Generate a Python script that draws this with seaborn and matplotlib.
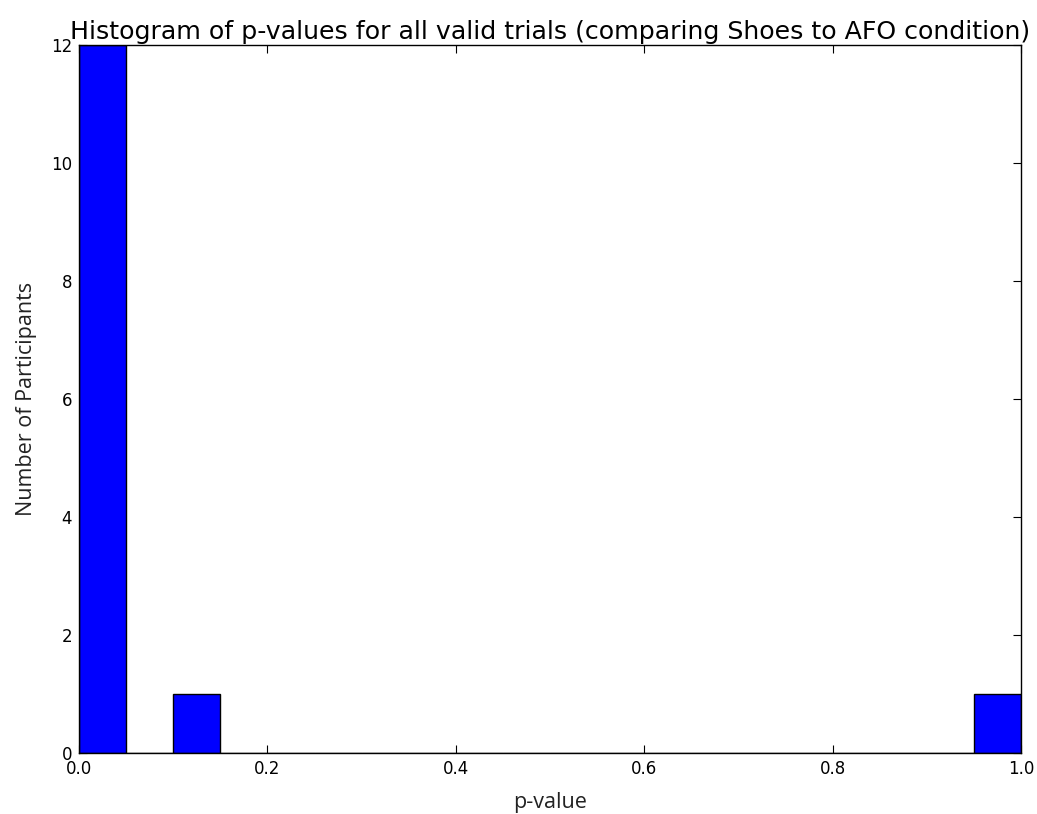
import numpy as np
import pandas as pd
import matplotlib
matplotlib.use("Agg")
import matplotlib.pyplot as plt
import seaborn as sns

# Participant counts per p-value bin (20 equal bins over [0, 1])
n_bins = 20
bin_counts = [12, 0, 1, 0, 0, 0, 0, 0, 0, 0, 0, 0, 0, 0, 0, 0, 0, 0, 0, 1]

title = "Histogram of p-values for all valid trials (comparing Shoes to AFO condition)"
x_label = "p-value"
y_label = "Number of Participants"

sns.set_style("white")
plt.rcParams["font.family"] = ["DejaVu Sans"]

fig = plt.figure(figsize=(10.37, 8.14), dpi=100)
ax = fig.add_axes([0.0762, 0.0749, 0.9084, 0.8698])

edges = np.linspace(0.0, 1.0, n_bins + 1)
df = pd.DataFrame({"p": (edges[:-1] + edges[1:]) / 2, "count": bin_counts})
sns.histplot(data=df, x="p", weights="count", bins=n_bins, binrange=(0, 1), ax=ax,
             color="#0000ff", alpha=1.0, edgecolor="black", linewidth=1.0)

ax.set_xlim(0, 1)
ax.set_ylim(0, 12)
ax.set_xticks(np.arange(0, 1.01, 0.2))
ax.set_yticks(np.arange(0, 13, 2))
ax.xaxis.set_major_formatter(matplotlib.ticker.FormatStrFormatter("%.1f"))
ax.tick_params(direction="in", length=6, width=0.8, top=True, right=True,
               bottom=True, left=True, labelsize=12, colors="black", pad=5)
for s in ax.spines.values():
    s.set_visible(True)
    s.set_color("black")
    s.set_linewidth(1.0)

ax.set_title(title, fontsize=18.2, pad=4, color="black")
ax.set_xlabel(x_label, fontsize=15.5, labelpad=10, family=["Open Sans", "DejaVu Sans"],
              color="#222222")
ax.set_ylabel(y_label, fontsize=15.5, labelpad=10, family=["Open Sans", "DejaVu Sans"],
              color="#222222")

fig.savefig("out.png", dpi=100)
